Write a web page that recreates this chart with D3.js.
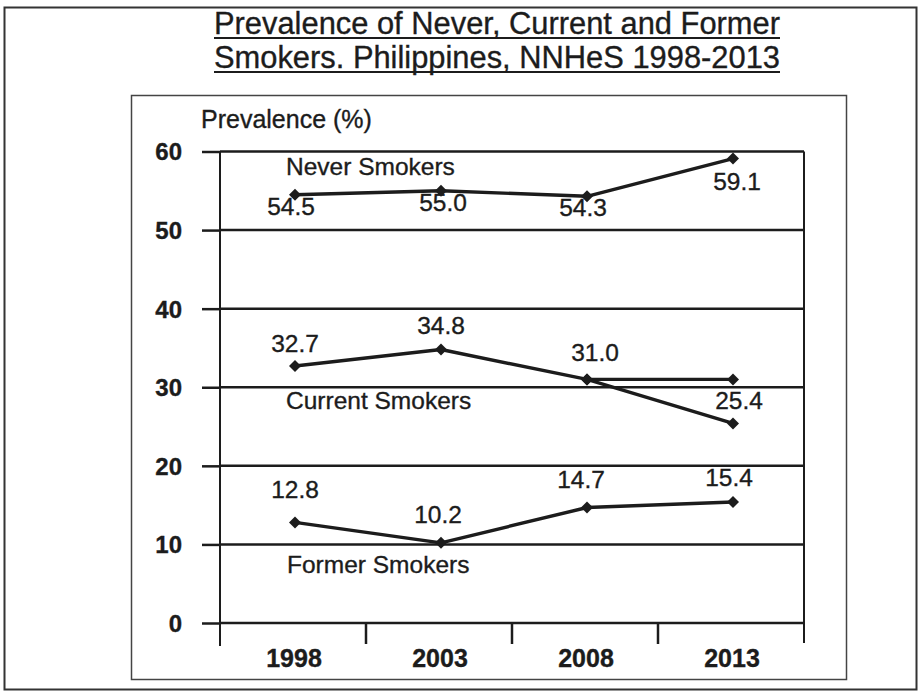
<!DOCTYPE html>
<html>
<head>
<meta charset="utf-8">
<script src="https://cdn.jsdelivr.net/npm/d3@7/dist/d3.min.js"></script>
<style>
  html, body { margin: 0; padding: 0; background: #fff; }
  svg { display: block; font-family: "Liberation Sans", Arial, sans-serif; }
  text { stroke: #1c1c1c; stroke-width: 0.35px; }
</style>
</head>
<body>
<svg id="chart" width="919" height="693"></svg>
<script>
// Survey years and prevalence (%) of each smoking status
const years = ["1998", "2003", "2008", "2013"];
const neverSmokers = [54.5, 55.0, 54.3, 59.1];
const currentSmokers = [32.7, 34.8, 31.0, 25.4];
const currentSmokersFlat = [null, null, 31.0, 31.0];
const formerSmokers = [12.8, 10.2, 14.7, 15.4];
const yTicks = [0, 10, 20, 30, 40, 50, 60];
const titleLines = [
  "Prevalence of Never, Current and Former",
  "Smokers. Philippines, NNHeS 1998-2013"
];

// Value label placement relative to each marker: [dx, baseline dy]
const neverLabelOffsets = [[-4, 20], [2, 20], [-4, 20], [4, 31]];
const currentLabelOffsets = [[0, -14], [0, -16], [8, -18], [6, -14]];
const formerLabelOffsets = [[0, -24], [-3, -20], [-6, -19], [-4, -16]];

const svg = d3.select("#chart");
const ink = "#1c1c1c";

// Page frame and inner chart frame
svg.append("rect").attr("x", 4.5).attr("y", 7.5).attr("width", 912).attr("height", 682)
  .attr("fill", "none").attr("stroke", "#333").attr("stroke-width", 2);
svg.append("rect").attr("x", 131.5).attr("y", 95.5).attr("width", 715).attr("height", 584)
  .attr("fill", "none").attr("stroke", "#444").attr("stroke-width", 1.5);

// Title with underlines
const title = svg.append("g");
titleLines.forEach((t, i) => {
  title.append("text")
    .attr("x", 497).attr("y", 34 + i * 34)
    .attr("text-anchor", "middle")
    .attr("font-size", 31)
    .attr("fill", ink)
    .attr("textLength", 566).attr("lengthAdjust", "spacingAndGlyphs")
    .text(t);
  title.append("line")
    .attr("x1", 214).attr("x2", 780)
    .attr("y1", 38 + i * 34).attr("y2", 38 + i * 34)
    .attr("stroke", ink).attr("stroke-width", 2.2);
});

// Scales
const plotLeft = 220, plotRight = 804, plotTop = 151.5, zeroY = 623;
const x = d3.scaleBand().domain(years).range([plotLeft, plotRight]);
const y = d3.scaleLinear().domain([0, 60]).range([zeroY, plotTop]);
const cx = d => x(d) + x.bandwidth() / 2 + 2;

// Horizontal gridlines with left tick stubs
const yAxis = d3.axisLeft(y).tickValues(yTicks).tickSize(18).tickFormat(d3.format("d"));
const yg = svg.append("g").attr("transform", `translate(${plotLeft},0)`).call(yAxis);
yg.select(".domain").remove();
yg.selectAll(".tick line").attr("stroke", ink).attr("stroke-width", 2.5);
yg.selectAll(".tick text").attr("x", -38).attr("font-size", 24).attr("font-weight", "bold")
  .attr("font-family", "Liberation Sans, Arial, sans-serif")
  .attr("fill", ink).attr("dy", "0.35em");
svg.append("g").selectAll("line").data(yTicks).join("line")
  .attr("x1", plotLeft).attr("x2", plotRight)
  .attr("y1", d => y(d)).attr("y2", d => y(d))
  .attr("stroke", ink).attr("stroke-width", 2.5);

// Vertical axis lines
svg.append("line").attr("x1", plotLeft).attr("x2", plotLeft).attr("y1", y(60)).attr("y2", zeroY + 23)
  .attr("stroke", ink).attr("stroke-width", 2);
svg.append("line").attr("x1", plotRight).attr("x2", plotRight).attr("y1", y(60)).attr("y2", zeroY + 20)
  .attr("stroke", ink).attr("stroke-width", 2);

// Category separators below the baseline
const xg = svg.append("g");
xg.selectAll("line").data(years.slice(1)).join("line")
  .attr("x1", d => x(d)).attr("x2", d => x(d))
  .attr("y1", zeroY).attr("y2", zeroY + 21)
  .attr("stroke", ink).attr("stroke-width", 2.5);
xg.selectAll("text").data(years).join("text")
  .attr("x", d => x(d) + x.bandwidth() / 2 + 1).attr("y", 667)
  .attr("text-anchor", "middle").attr("font-size", 25).attr("font-weight", "bold")
  .attr("fill", ink).text(d => d);

// Axis title
svg.append("text").attr("x", 201).attr("y", 128).attr("font-size", 25).attr("fill", ink)
  .text("Prevalence (%)");

// Series lines and diamond markers (squares turned 45 degrees)
const line = d3.line()
  .defined(d => d.v !== null)
  .x(d => cx(d.year)).y(d => y(d.v));
const marker = d3.symbol().type(d3.symbolSquare).size(72);

function drawSeries(values, offsets, showLabels) {
  const pts = years.map((yr, i) => ({ year: yr, v: values[i], off: offsets ? offsets[i] : null }));
  svg.append("path").datum(pts).attr("d", line)
    .attr("fill", "none").attr("stroke", ink).attr("stroke-width", 3.4)
    .attr("stroke-linejoin", "round");
  const valid = pts.filter(d => d.v !== null);
  svg.append("g").selectAll("path").data(valid).join("path")
    .attr("d", marker)
    .attr("transform", d => `translate(${cx(d.year)},${y(d.v)}) rotate(45)`)
    .attr("fill", ink);
  if (showLabels) {
    svg.append("g").selectAll("text").data(valid).join("text")
      .attr("x", d => cx(d.year) + d.off[0])
      .attr("y", d => y(d.v) + d.off[1])
      .attr("text-anchor", "middle").attr("font-size", 24.5).attr("fill", ink)
      .text(d => d.v.toFixed(1));
  }
}

drawSeries(neverSmokers, neverLabelOffsets, true);
drawSeries(currentSmokersFlat, null, false);
drawSeries(currentSmokers, currentLabelOffsets, true);
drawSeries(formerSmokers, formerLabelOffsets, true);

// Series names
const names = [
  { text: "Never Smokers", x: 286, y: 175 },
  { text: "Current Smokers", x: 286, y: 409 },
  { text: "Former Smokers", x: 287, y: 573 }
];
svg.append("g").selectAll("text").data(names).join("text")
  .attr("x", d => d.x).attr("y", d => d.y)
  .attr("font-size", 24.5).attr("fill", ink).text(d => d.text);
</script>
</body>
</html>
